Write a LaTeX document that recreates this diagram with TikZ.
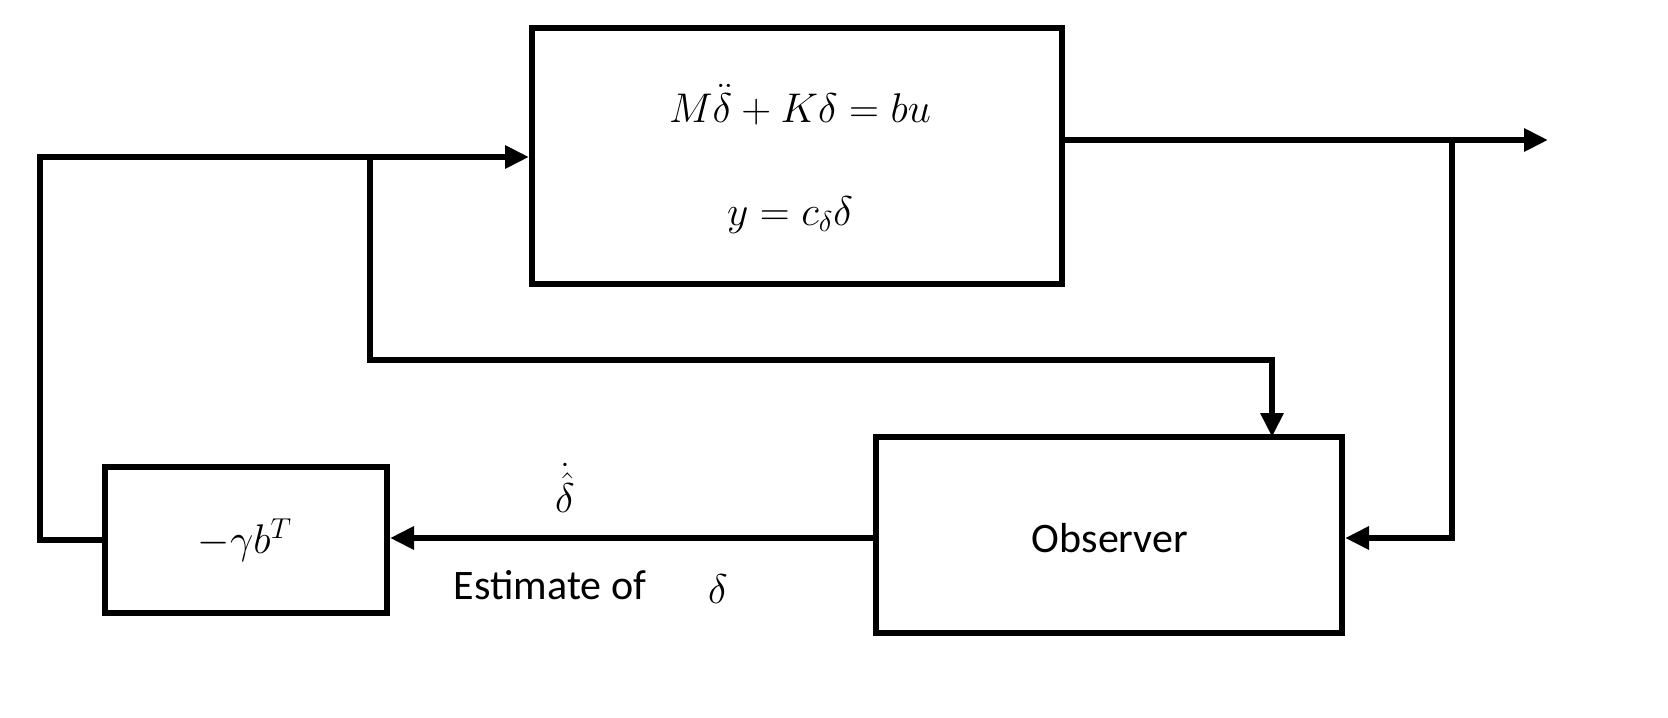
\documentclass[tikz,border=0pt]{standalone}
\usepackage{fontspec}
\newfontfamily\carlitofont{Carlito}
\usetikzlibrary{arrows.meta}
\begin{document}
\begin{tikzpicture}[x=0.5pt,y=-0.5pt,
  blk/.style={draw,line width=3pt,inner sep=0},
  arr/.style={line width=3pt,-{Triangle[length=12pt,width=11pt]}},
  lbl/.style={font=\fontsize{20}{24}\selectfont}]
\node[blk,minimum width=265pt,minimum height=128pt] (plant) at (797,156) {};
\node[lbl] (e1) at (800,105) {$M\ddot{\delta}+K\delta=bu$};
\node[lbl] (e2) at (790,215) {$y=c_\delta\delta$};
\node[blk,minimum width=233pt,minimum height=98pt] (obs) at (1109,535) {};
\node[font=\carlitofont\fontsize{21}{24}\selectfont] (ot) at (1110,538) {Observer};
\node[blk,minimum width=141pt,minimum height=73pt] (gain) at (246,540) {};
\node[lbl] (gt) at (245,540) {$-\gamma b^T$};
\coordinate (out) at (1548,140);
\coordinate (b1) at (1452,140);
\coordinate (b2) at (370,157);
\draw[arr] (plant.east |- out) -- (out);
\draw[arr] (b1) |- (obs.east |- 0,538);
\draw[arr] (gain.west) -- (40,540) |- (plant.west |- b2);
\draw[arr] (b2) |- (1272,360) -- (1272,437);
\draw[arr] (obs.west |- 0,538) -- (gain.east |- 0,538);
\node[lbl,inner sep=1pt] (dh) at (565,488) {$\dot{\hat{\delta}}$};
\node[font=\carlitofont\fontsize{21}{24}\selectfont,inner sep=1pt] (est) at (550,585) {Estimate of};
\node[lbl,inner sep=1pt] (d) at (718,589) {$\delta$};
\pgfresetboundingbox
\path[use as bounding box] (0,0) rectangle (1668,717);
\end{tikzpicture}
\end{document}
